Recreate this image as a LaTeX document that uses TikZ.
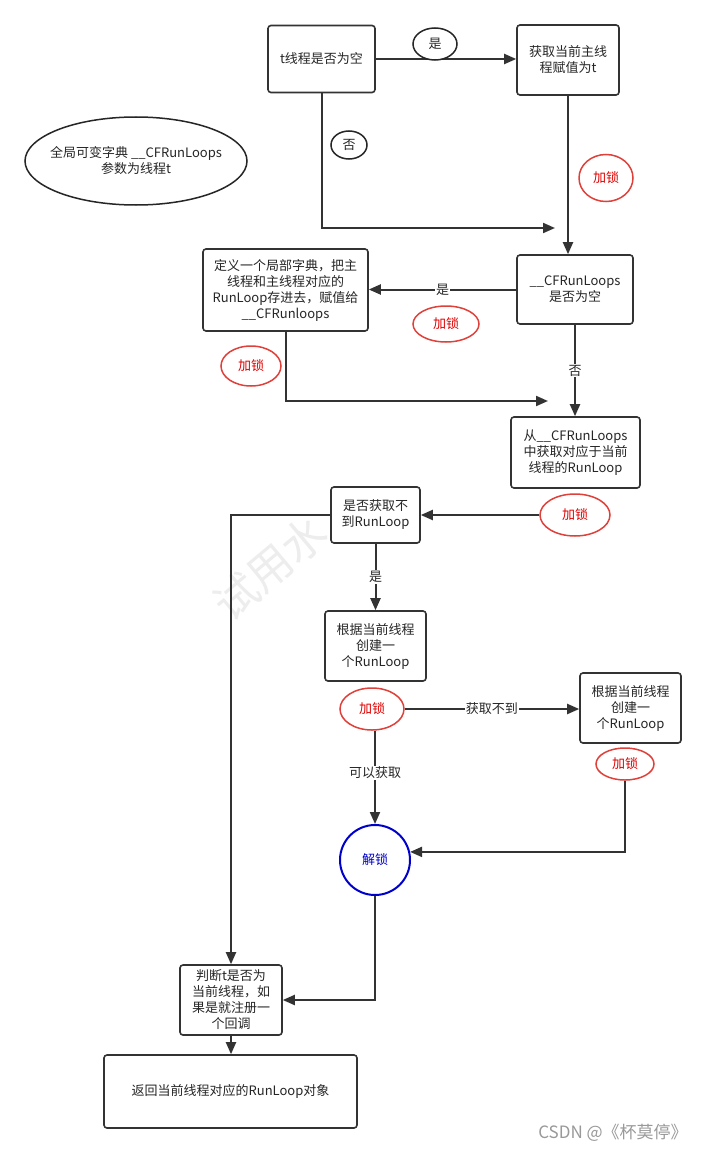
\documentclass[tikz,border=0pt]{standalone}
\usepackage{fontspec}
\newfontfamily\cjk{Noto Sans CJK SC}
\usetikzlibrary{arrows.meta,shapes.geometric}
\definecolor{ln}{HTML}{333333}
\definecolor{lockred}{HTML}{E0403A}
\definecolor{locktxt}{HTML}{E00000}
\definecolor{unblue}{HTML}{0000CC}
\tikzset{
  box/.style={draw=ln, line width=1.6pt, rounded corners=3pt, fill=white, align=center,
    inner sep=0pt, font=\cjk\fontsize{13}{16}\selectfont, text=black!85},
  arr/.style={draw=ln, line width=2pt, -{Triangle[length=12pt,width=10pt]}},
  lock/.style={ellipse, draw=lockred, line width=1.5pt, fill=white, inner sep=0pt,
    font=\cjk\fontsize{13}{16}\selectfont, text=locktxt},
  bub/.style={ellipse, draw=black!85, line width=1.5pt, fill=white, inner sep=0pt,
    font=\cjk\fontsize{13}{16}\selectfont, text=black!85},
  lbl/.style={fill=white, inner sep=1pt, font=\cjk\fontsize{13}{16}\selectfont, text=black!85}
}
\begin{document}
\begin{tikzpicture}[x=1pt,y=-1pt]
\useasboundingbox[fill=white] (0,0) rectangle (706,1153);
% faint watermark
\node[rotate=40, text=black!7, font=\cjk\fontsize{44}{44}\selectfont] (wm) at (270,568) {试用水};
% global ellipse
\node[ellipse, draw=black!85, line width=1.5pt, minimum width=222pt, minimum height=88pt, inner sep=0pt] (G0) at (136,161) {};
\node[align=center, inner sep=0pt, font=\cjk\fontsize{13}{16}\selectfont, text=black!85] (G0t) at (G0.center)
  {全局可变字典 \_\_CFRunLoops\\参数为线程t};
% boxes
\node[box, minimum width=107pt, minimum height=67pt] (A) at (321.5,59) {t线程是否为空};
\node[box, minimum width=102pt, minimum height=70pt] (B) at (568,60) {获取当前主线\\程赋值为t};
\node[box, minimum width=116pt, minimum height=69pt] (C) at (575,289.5) {\_\_CFRunLoops\\是否为空};
\node[box, minimum width=165pt, minimum height=82pt] (D) at (285.5,290) {定义一个局部字典，把主\\线程和主线程对应的\\RunLoop存进去，赋值给\\\_\_CFRunloops};
\node[box, minimum width=129pt, minimum height=71pt] (E) at (575.5,452.5) {从\_\_CFRunLoops\\中获取对应于当前\\线程的RunLoop};
\node[box, minimum width=89pt, minimum height=56pt] (F) at (375.5,515) {是否获取不\\到RunLoop};
\node[box, minimum width=101pt, minimum height=70pt] (Gb) at (375.5,646) {根据当前线程\\创建一\\个RunLoop};
\node[box, minimum width=101pt, minimum height=70pt] (I) at (630.5,708) {根据当前线程\\创建一\\个RunLoop};
\node[box, minimum width=102pt, minimum height=70pt] (H) at (231,1000) {判断t是否为\\当前线程，如\\果是就注册一\\个回调};
\node[box, minimum width=253pt, minimum height=73pt] (K) at (230.5,1091.5) {返回当前线程对应的RunLoop对象};
% unlock circle
\node[circle, draw=unblue, line width=2pt, minimum size=70pt, inner sep=0pt, fill=white,
  font=\cjk\fontsize{13}{16}\selectfont, text=unblue] (J) at (375,860) {解锁};
% lock ellipses
\node[lock, minimum width=54pt, minimum height=47pt] (L1) at (606,178) {加锁};
\node[lock, minimum width=66pt, minimum height=36pt] (L2) at (446,324) {加锁};
\node[lock, minimum width=60pt, minimum height=40pt] (L3) at (251,366) {加锁};
\node[lock, minimum width=70pt, minimum height=42pt] (L4) at (575,515) {加锁};
\node[lock, minimum width=64pt, minimum height=42pt] (L5) at (372,709) {加锁};
\node[lock, minimum width=58pt, minimum height=32pt] (L6) at (625,764) {加锁};
% coordinates
\coordinate (m1) at (555,228);
\coordinate (m2) at (548,401);
% connectors
\draw[arr] (A.east) -- (A.east -| B.west);
\node[bub, minimum width=44pt, minimum height=32pt] (yes1) at (435,44) {是};
\draw[arr] (A.south) |- (m1);
\node[bub, minimum width=36pt, minimum height=28pt] (no1) at (349,145) {否};
\draw[arr] (B.south) -- (B.south |- C.north);
\draw[arr] (C.west) -- node[lbl, pos=0.5] {是} (C.west -| D.east);
\draw[arr] (D.south) |- (m2);
\draw[arr] (C.south) -- node[lbl, pos=0.5] {否} (C.south |- E.north);
\draw[arr] (L4.west) -- (L4.west -| F.east);
\draw[arr] (F.west) -| (H.north);
\draw[arr] (F.south) -- node[lbl] {是} (F.south |- Gb.north);
\draw[arr] (L5.east) -- node[lbl, pos=0.5] {获取不到} (L5.east -| I.west);
\draw[arr] (J.north |- L5.south) -- node[lbl, pos=0.45] {可以获取} (J.north);
\draw[arr] (L6.south) |- (J.13);
\draw[arr] (J.south) |- (H.east);
\draw[arr] (H.south) -- (H.south |- K.north);
% CSDN watermark
\node[text=black!40, font=\cjk\fontsize{17}{17}\selectfont] (csdn) at (613,1133) {CSDN @《杯莫停》};
\end{tikzpicture}
\end{document}
